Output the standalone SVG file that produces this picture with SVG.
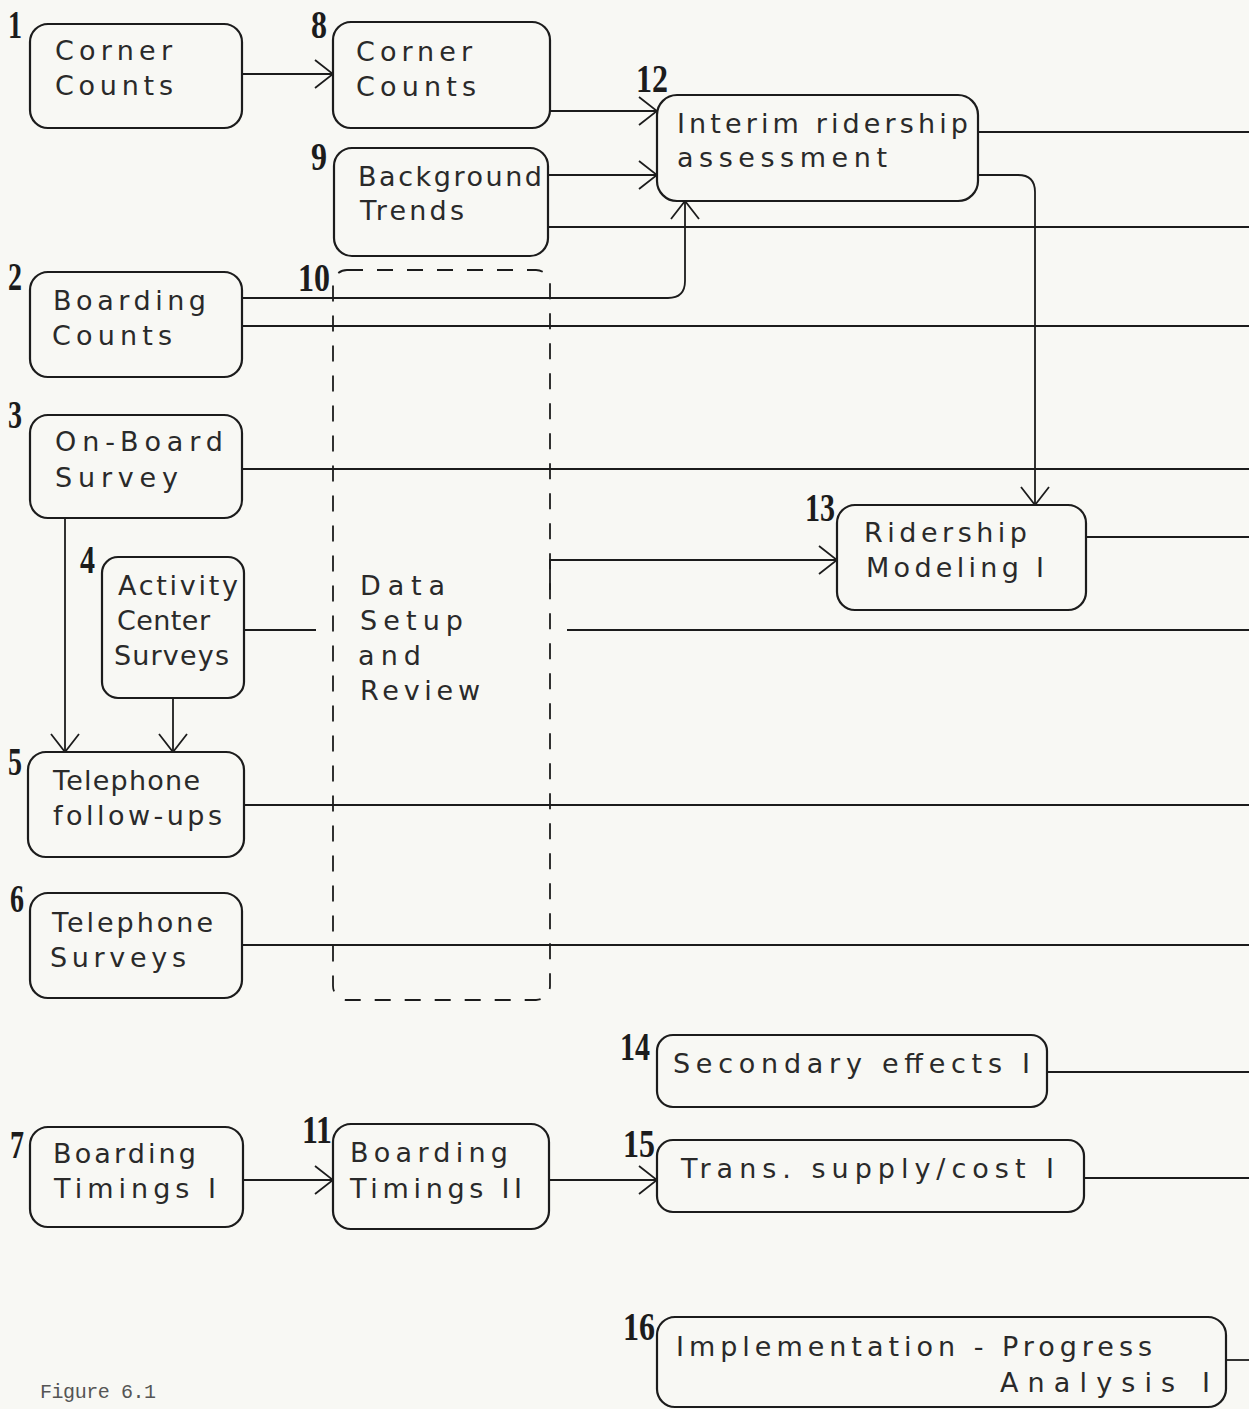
<svg xmlns="http://www.w3.org/2000/svg" width="1249" height="1409" viewBox="0 0 1249 1409">
<defs>
<marker id="arr" viewBox="0 0 20 30" refX="19" refY="15" markerWidth="20" markerHeight="30" markerUnits="userSpaceOnUse" orient="auto">
<path d="M1,1 L19,15 L1,29" fill="none" stroke="#1c1c1c" stroke-width="1.8"/>
</marker>
<style>
.bx{fill:none;stroke:#1c1c1c;stroke-width:2.2}
.dash{fill:none;stroke:#1c1c1c;stroke-width:1.8;stroke-dasharray:16 14}
.ln{fill:none;stroke:#1c1c1c;stroke-width:1.8}
.t{font-family:"DejaVu Sans","Liberation Sans",sans-serif;font-size:27px;fill:#2a2a2a}
.n{font-family:"Liberation Serif",serif;font-weight:bold;font-size:40px;fill:#1c1c1c}
.fig{font-family:"Liberation Mono",monospace;font-size:20px;fill:#555}
</style>
</defs>
<rect width="1249" height="1409" fill="#f8f8f4"/>

<g id="connectors">
<path class="ln" d="M242,74 H333" marker-end="url(#arr)"/>
<path class="ln" d="M550,111 H657" marker-end="url(#arr)"/>
<path class="ln" d="M548,175 H657" marker-end="url(#arr)"/>
<path class="ln" d="M548,227 H1249"/>
<path class="ln" d="M242,298 H668 Q685,298 685,281 V201" marker-end="url(#arr)"/>
<path class="ln" d="M242,326 H1249"/>
<path class="ln" d="M978,132 H1249"/>
<path class="ln" d="M978,175 H1018 Q1035,175 1035,192 V505" marker-end="url(#arr)"/>
<path class="ln" d="M242,469 H1249"/>
<path class="ln" d="M550,590 V560 H837" marker-end="url(#arr)"/>
<path class="ln" d="M244,630 H316"/>
<path class="ln" d="M567,630 H1249"/>
<path class="ln" d="M65,518 V752" marker-end="url(#arr)"/>
<path class="ln" d="M173,698 V752" marker-end="url(#arr)"/>
<path class="ln" d="M244,805 H1249"/>
<path class="ln" d="M242,945 H1249"/>
<path class="ln" d="M1086,537 H1249"/>
<path class="ln" d="M1047,1072 H1249"/>
<path class="ln" d="M243,1180 H333" marker-end="url(#arr)"/>
<path class="ln" d="M549,1180 H657" marker-end="url(#arr)"/>
<path class="ln" d="M1084,1178 H1249"/>
<path class="ln" d="M1226,1360 H1249"/>
</g>

<g id="n1">
<rect class="bx" x="30" y="24" width="212" height="104" rx="18"/>
<text class="n" x="8" y="38" textLength="14" lengthAdjust="spacingAndGlyphs">1</text>
<text class="t" x="55" y="60" textLength="117">Corner</text>
<text class="t" x="55" y="95" textLength="118">Counts</text>
</g>
<g id="n8">
<rect class="bx" x="333" y="22" width="217" height="106" rx="18"/>
<text class="n" x="311" y="38" textLength="16" lengthAdjust="spacingAndGlyphs">8</text>
<text class="t" x="356" y="61" textLength="116">Corner</text>
<text class="t" x="356" y="96" textLength="120">Counts</text>
</g>
<g id="n12">
<rect class="bx" x="657" y="95" width="321" height="106" rx="20"/>
<text class="n" x="636" y="92" textLength="32" lengthAdjust="spacingAndGlyphs">12</text>
<text class="t" x="677" y="133" textLength="291">Interim ridership</text>
<text class="t" x="677" y="167" textLength="210">assessment</text>
</g>
<g id="n9">
<rect class="bx" x="334" y="148" width="214" height="108" rx="18"/>
<text class="n" x="311" y="170" textLength="16" lengthAdjust="spacingAndGlyphs">9</text>
<text class="t" x="358" y="186" textLength="184">Background</text>
<text class="t" x="360" y="220" textLength="104">Trends</text>
</g>
<g id="n2">
<rect class="bx" x="30" y="272" width="212" height="105" rx="18"/>
<text class="n" x="8" y="290" textLength="14" lengthAdjust="spacingAndGlyphs">2</text>
<text class="t" x="53" y="310" textLength="153">Boarding</text>
<text class="t" x="52" y="345" textLength="120">Counts</text>
</g>
<g id="n10">
<rect class="dash" x="333" y="270" width="217" height="730" rx="14"/>
<text class="n" x="298" y="291" textLength="32" lengthAdjust="spacingAndGlyphs">10</text>
<text class="t" x="360" y="595" textLength="85">Data</text>
<text class="t" x="360" y="630" textLength="103">Setup</text>
<text class="t" x="358" y="665" textLength="63">and</text>
<text class="t" x="360" y="700" textLength="120">Review</text>
</g>
<g id="n3">
<rect class="bx" x="30" y="415" width="212" height="103" rx="18"/>
<text class="n" x="8" y="428" textLength="14" lengthAdjust="spacingAndGlyphs">3</text>
<text class="t" x="55" y="451" textLength="168">On-Board</text>
<text class="t" x="55" y="487" textLength="123">Survey</text>
</g>
<g id="n4">
<rect class="bx" x="102" y="557" width="142" height="141" rx="16"/>
<text class="n" x="80" y="573" textLength="15" lengthAdjust="spacingAndGlyphs">4</text>
<text class="t" x="118" y="595" textLength="120">Activity</text>
<text class="t" x="117" y="630" textLength="93">Center</text>
<text class="t" x="114" y="665" textLength="115">Surveys</text>
</g>
<g id="n5">
<rect class="bx" x="28" y="752" width="216" height="105" rx="18"/>
<text class="n" x="8" y="775" textLength="14" lengthAdjust="spacingAndGlyphs">5</text>
<text class="t" x="53" y="790" textLength="147">Telephone</text>
<text class="t" x="53" y="825" textLength="169">follow-ups</text>
</g>
<g id="n6">
<rect class="bx" x="30" y="893" width="212" height="105" rx="18"/>
<text class="n" x="10" y="912" textLength="14" lengthAdjust="spacingAndGlyphs">6</text>
<text class="t" x="52" y="932" textLength="161">Telephone</text>
<text class="t" x="50" y="967" textLength="136">Surveys</text>
</g>
<g id="n13">
<rect class="bx" x="837" y="505" width="249" height="105" rx="18"/>
<text class="n" x="805" y="521" textLength="30" lengthAdjust="spacingAndGlyphs">13</text>
<text class="t" x="864" y="542" textLength="163">Ridership</text>
<text class="t" x="866" y="577" textLength="178">Modeling I</text>
</g>
<g id="n14">
<rect class="bx" x="657" y="1035" width="390" height="72" rx="16"/>
<text class="n" x="620" y="1060" textLength="30" lengthAdjust="spacingAndGlyphs">14</text>
<text class="t" x="673" y="1073" textLength="357">Secondary effects I</text>
</g>
<g id="n7">
<rect class="bx" x="30" y="1127" width="213" height="100" rx="18"/>
<text class="n" x="10" y="1158" textLength="14" lengthAdjust="spacingAndGlyphs">7</text>
<text class="t" x="53" y="1163" textLength="143">Boarding</text>
<text class="t" x="54" y="1198" textLength="162">Timings I</text>
</g>
<g id="n11">
<rect class="bx" x="333" y="1124" width="216" height="105" rx="18"/>
<text class="n" x="302" y="1143" textLength="30" lengthAdjust="spacingAndGlyphs">11</text>
<text class="t" x="350" y="1162" textLength="158">Boarding</text>
<text class="t" x="350" y="1198" textLength="172">Timings II</text>
</g>
<g id="n15">
<rect class="bx" x="657" y="1140" width="427" height="72" rx="16"/>
<text class="n" x="623" y="1157" textLength="32" lengthAdjust="spacingAndGlyphs">15</text>
<text class="t" x="681" y="1178" textLength="373">Trans. supply/cost I</text>
</g>
<g id="n16">
<rect class="bx" x="657" y="1317" width="569" height="90" rx="18"/>
<text class="n" x="623" y="1340" textLength="32" lengthAdjust="spacingAndGlyphs">16</text>
<text class="t" x="676" y="1356" textLength="476">Implementation - Progress</text>
<text class="t" x="1000" y="1392" textLength="210">Analysis I</text>
</g>
<text class="fig" x="40" y="1398" textLength="116">Figure 6.1</text>
</svg>
